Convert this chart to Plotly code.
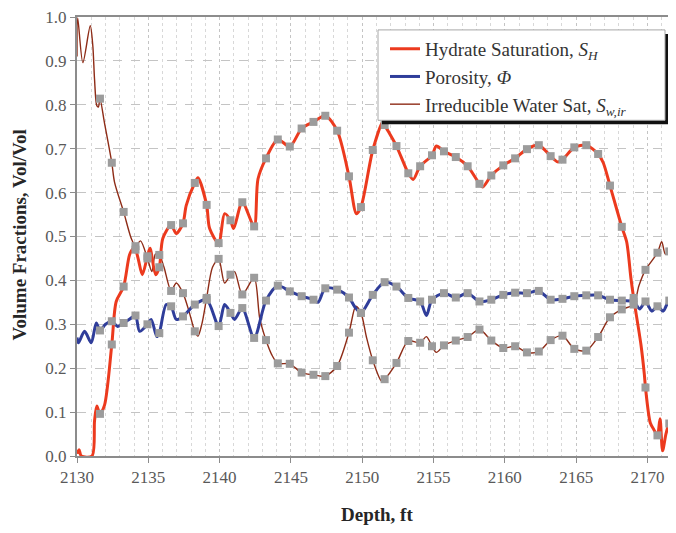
import plotly.graph_objects as go

FONT = "Liberation Serif"

# ---- data: gray square sample points (shared depths) ----
marker_depth = [2131.61, 2132.44, 2133.27, 2134.10, 2134.94, 2135.77, 2136.60, 2137.43, 2138.26, 2139.09,
                2139.93, 2140.76, 2141.59, 2142.42, 2143.25, 2144.08, 2144.92, 2145.75, 2146.58, 2147.41,
                2148.24, 2149.07, 2149.91, 2150.74, 2151.57, 2152.40, 2153.23, 2154.06, 2154.89, 2155.73,
                2156.56, 2157.39, 2158.22, 2159.05, 2159.89, 2160.72, 2161.55, 2162.38, 2163.21, 2164.04,
                2164.87, 2165.71, 2166.54, 2167.37, 2168.20, 2169.03, 2169.86, 2170.70, 2171.53]
hydrate_pts = [0.096, 0.254, 0.386, 0.47, 0.455, 0.43, 0.526, 0.53, 0.622, 0.572,
               0.485, 0.537, 0.578, 0.523, 0.678, 0.721, 0.705, 0.746, 0.761, 0.775,
               0.741, 0.637, 0.567, 0.697, 0.754, 0.706, 0.644, 0.66, 0.685, 0.694,
               0.681, 0.66, 0.62, 0.639, 0.662, 0.678, 0.699, 0.708, 0.683, 0.675,
               0.703, 0.708, 0.688, 0.616, 0.522, 0.36, 0.156, 0.047, 0.074]
porosity_pts = [0.286, 0.307, 0.303, 0.32, 0.30, 0.28, 0.341, 0.318, 0.345, 0.356,
                0.296, 0.326, 0.337, 0.269, 0.354, 0.388, 0.375, 0.364, 0.356, 0.382,
                0.379, 0.361, 0.326, 0.367, 0.396, 0.386, 0.36, 0.352, 0.356, 0.371,
                0.361, 0.371, 0.352, 0.356, 0.367, 0.372, 0.371, 0.376, 0.356, 0.358,
                0.364, 0.366, 0.366, 0.356, 0.354, 0.352, 0.352, 0.341, 0.354]
water_pts = [0.814, 0.668, 0.556, 0.478, 0.45, 0.458, 0.376, 0.371, 0.284, 0.36,
             0.449, 0.413, 0.368, 0.406, 0.264, 0.211, 0.21, 0.19, 0.185, 0.182,
             0.205, 0.281, 0.326, 0.218, 0.175, 0.212, 0.262, 0.258, 0.25, 0.252,
             0.263, 0.271, 0.288, 0.263, 0.246, 0.25, 0.236, 0.238, 0.264, 0.274,
             0.244, 0.24, 0.271, 0.316, 0.334, 0.345, 0.424, 0.463, 0.466]

# ---- data: continuous log curves ----
hydrate_depth = [2130.00, 2130.15, 2130.30, 2131.05, 2131.23, 2131.39, 2131.61, 2131.93, 2132.44, 2132.75,
                 2133.27, 2133.68, 2133.92, 2134.10, 2134.30, 2134.58, 2134.94, 2135.12, 2135.51, 2135.77,
                 2136.02, 2136.60, 2136.96, 2137.43, 2137.66, 2138.26, 2138.48, 2139.09, 2139.30, 2139.93,
                 2140.35, 2140.76, 2140.98, 2141.59, 2142.42, 2142.69, 2143.25, 2144.08, 2144.92, 2145.75,
                 2146.58, 2147.41, 2148.24, 2149.07, 2149.59, 2149.91, 2150.74, 2151.45, 2151.57, 2152.40,
                 2153.23, 2153.57, 2154.06, 2154.89, 2155.20, 2155.73, 2156.56, 2157.39, 2158.22, 2158.45,
                 2159.05, 2159.89, 2160.72, 2161.55, 2162.38, 2163.21, 2163.70, 2164.04, 2164.87, 2165.71,
                 2166.54, 2166.90, 2167.37, 2168.20, 2168.54, 2168.84, 2169.03, 2169.54, 2169.78, 2169.86,
                 2170.20, 2170.45, 2170.70, 2170.88, 2171.06, 2171.30, 2171.53, 2171.77, 2172.00]
hydrate_vals = [0.005, 0.014, 0.0, 0.0, 0.08, 0.114, 0.096, 0.116, 0.254, 0.352,
                0.386, 0.458, 0.472, 0.47, 0.448, 0.413, 0.455, 0.473, 0.413, 0.43,
                0.496, 0.526, 0.507, 0.53, 0.571, 0.622, 0.634, 0.572, 0.518, 0.485,
                0.552, 0.537, 0.518, 0.578, 0.523, 0.631, 0.678, 0.721, 0.705, 0.746,
                0.761, 0.775, 0.741, 0.637, 0.552, 0.567, 0.697, 0.762, 0.754, 0.706,
                0.644, 0.63, 0.66, 0.685, 0.706, 0.694, 0.681, 0.66, 0.62, 0.613,
                0.639, 0.662, 0.678, 0.699, 0.708, 0.683, 0.67, 0.675, 0.703, 0.708,
                0.688, 0.668, 0.616, 0.522, 0.488, 0.405, 0.36, 0.254, 0.186, 0.156,
                0.075, 0.06, 0.047, 0.085, 0.012, 0.051, 0.074, 0.046, 0.04]

porosity_depth = [2130.00, 2130.10, 2130.53, 2131.00, 2131.35, 2131.61, 2132.00, 2132.44, 2132.85, 2133.27,
                  2133.70, 2134.10, 2134.39, 2134.94, 2135.20, 2135.60, 2135.77, 2136.26, 2136.60, 2136.96,
                  2137.43, 2138.26, 2139.09, 2139.93, 2140.35, 2140.76, 2141.05, 2141.59, 2142.42, 2143.25,
                  2144.08, 2144.92, 2145.75, 2146.58, 2146.90, 2147.41, 2148.24, 2149.07, 2149.47, 2149.91,
                  2150.74, 2151.57, 2152.40, 2153.23, 2154.06, 2154.50, 2154.89, 2155.73, 2156.56, 2157.39,
                  2158.22, 2159.05, 2159.89, 2160.72, 2161.55, 2162.38, 2163.21, 2164.04, 2164.87, 2165.71,
                  2166.54, 2167.37, 2168.20, 2169.03, 2169.45, 2169.86, 2170.30, 2170.70, 2171.10, 2171.53,
                  2172.00]
porosity_vals = [0.27, 0.258, 0.284, 0.258, 0.303, 0.286, 0.30, 0.307, 0.295, 0.303,
                 0.312, 0.32, 0.284, 0.30, 0.311, 0.272, 0.28, 0.345, 0.341, 0.311,
                 0.318, 0.345, 0.356, 0.296, 0.345, 0.326, 0.311, 0.337, 0.269, 0.354,
                 0.388, 0.375, 0.364, 0.356, 0.35, 0.382, 0.379, 0.361, 0.34, 0.326,
                 0.367, 0.396, 0.386, 0.36, 0.352, 0.32, 0.356, 0.371, 0.361, 0.371,
                 0.352, 0.356, 0.367, 0.372, 0.371, 0.376, 0.356, 0.358, 0.364, 0.366,
                 0.366, 0.356, 0.354, 0.352, 0.335, 0.352, 0.33, 0.341, 0.33, 0.354,
                 0.341]

water_depth = [2130.00, 2130.05, 2130.41, 2130.93, 2131.11, 2131.23, 2131.39, 2131.50, 2131.61, 2131.92,
               2132.44, 2132.63, 2133.27, 2133.80, 2134.10, 2134.45, 2134.94, 2135.25, 2135.50, 2135.77,
               2136.10, 2136.60, 2136.96, 2137.43, 2137.85, 2138.26, 2138.48, 2138.75, 2139.09, 2139.50,
               2139.93, 2140.35, 2140.76, 2141.05, 2141.59, 2142.42, 2142.81, 2143.25, 2143.65, 2144.08,
               2144.92, 2145.75, 2146.58, 2147.41, 2148.24, 2149.07, 2149.55, 2149.91, 2150.30, 2150.74,
               2151.35, 2151.57, 2152.40, 2153.23, 2154.06, 2154.50, 2154.89, 2155.20, 2155.73, 2156.56,
               2157.39, 2158.22, 2159.05, 2159.89, 2160.72, 2161.55, 2162.38, 2163.21, 2164.04, 2164.87,
               2165.71, 2166.54, 2167.37, 2168.20, 2169.03, 2169.40, 2169.86, 2170.70, 2171.00, 2171.25,
               2171.53, 2171.77, 2172.00]
water_vals = [0.91, 0.998, 0.896, 0.98, 0.934, 0.858, 0.798, 0.795, 0.814, 0.76,
              0.668, 0.624, 0.556, 0.496, 0.478, 0.49, 0.45, 0.42, 0.46, 0.458,
              0.43, 0.376, 0.394, 0.371, 0.33, 0.284, 0.273, 0.30, 0.36, 0.43,
              0.449, 0.394, 0.413, 0.42, 0.368, 0.406, 0.314, 0.264, 0.231, 0.211,
              0.21, 0.19, 0.185, 0.182, 0.205, 0.281, 0.341, 0.326, 0.27, 0.218,
              0.171, 0.175, 0.212, 0.262, 0.258, 0.272, 0.25, 0.236, 0.252, 0.263,
              0.271, 0.288, 0.263, 0.246, 0.25, 0.236, 0.238, 0.264, 0.274, 0.244,
              0.24, 0.271, 0.316, 0.334, 0.345, 0.388, 0.424, 0.463, 0.488, 0.46,
              0.466, 0.488, 0.495]

x_ticks = [2130, 2135, 2140, 2145, 2150, 2155, 2160, 2165, 2170]

RED = "#ec3a1e"
BLUE = "#2f3d9a"
BROWN = "#8e2c17"
GRAY = "#9c9c9c"
AXIS = "#8c8c8c"

fig = go.Figure()
fig.add_trace(go.Scatter(x=water_depth, y=water_vals, mode="lines",
                         line=dict(color=BROWN, width=1.4, shape="spline", smoothing=0.8),
                         name="Irreducible Water Sat, <i>S<sub>w,ir</sub></i>", legendrank=3))
fig.add_trace(go.Scatter(x=porosity_depth, y=porosity_vals, mode="lines",
                         line=dict(color=BLUE, width=3, shape="spline", smoothing=0.8),
                         name="Porosity, <i>Φ</i>", legendrank=2))
fig.add_trace(go.Scatter(x=hydrate_depth, y=hydrate_vals, mode="lines",
                         line=dict(color=RED, width=3, shape="spline", smoothing=0.8),
                         name="Hydrate Saturation, <i>S<sub>H</sub></i>", legendrank=1))
for vals in (water_pts, porosity_pts, hydrate_pts):
    fig.add_trace(go.Scatter(x=marker_depth, y=vals, mode="markers", showlegend=False,
                             marker=dict(symbol="square", size=8, color=GRAY), hoverinfo="skip"))

# the page body adds an 8 px offset; layout numbers below are in page pixels
OFF = 8
L, T, W, H = 77, 14, 599, 442   # plot area in page pixels
FIG_W, FIG_H = 676 - OFF, 533 - OFF


def px(xp):
    return (xp - L) / W


def py(yp):
    return (T + H - yp) / H


fig.update_layout(
    width=FIG_W, height=FIG_H,
    margin=dict(l=L - OFF, r=FIG_W - (L - OFF) - W, t=T - OFF, b=FIG_H - (T - OFF) - H),
    paper_bgcolor="white", plot_bgcolor="white",
    font=dict(family=FONT, color="#595959"),
    legend=dict(x=px(385), y=py(27), xanchor="left", yanchor="top",
                bgcolor="rgba(0,0,0,0)", borderwidth=0, tracegroupgap=0,
                font=dict(family=FONT, size=19, color="#333333")),
    shapes=[
        dict(type="rect", xref="paper", yref="paper", x0=px(382), x1=px(669), y0=py(122), y1=py(31),
             fillcolor="#111111", line=dict(width=0), layer="above"),
        dict(type="rect", xref="paper", yref="paper", x0=px(378), x1=px(665), y0=py(118), y1=py(27),
             fillcolor="white", line=dict(color="#a8a8a8", width=1), layer="above"),
    ],
    annotations=[
        dict(text="<b>Volume Fractions, Vol/Vol</b>", xref="paper", yref="paper", x=px(20), y=py(234),
             textangle=-90, showarrow=False, xanchor="center", yanchor="middle",
             font=dict(family=FONT, size=19, color="#262626")),
        dict(text="<b>Depth, ft</b>", xref="paper", yref="paper", x=px(377), y=py(515),
             showarrow=False, xanchor="center", yanchor="middle",
             font=dict(family=FONT, size=19, color="#262626")),
    ],
)
fig.update_xaxes(range=[2130, 2172], tickvals=x_ticks, ticks="outside", ticklen=5, tickcolor=AXIS,
                 showline=True, linecolor=AXIS, linewidth=2, mirror=True, zeroline=False,
                 showgrid=True, gridcolor="#c4c4c4", griddash="dot", gridwidth=1,
                 ticklabeloverflow="allow",
                 minor=dict(dtick=1, tick0=2130, showgrid=True, gridcolor="#d8d8d8", griddash="dot", gridwidth=1),
                 tickfont=dict(family=FONT, size=17, color="#595959"))
fig.update_yaxes(range=[0, 1], dtick=0.1, tickformat=".1f", ticks="outside", ticklen=5, tickcolor=AXIS,
                 showline=True, linecolor=AXIS, linewidth=2, zeroline=False,
                 showgrid=True, gridcolor="#c4c4c4", griddash="dash", gridwidth=1,
                 ticklabeloverflow="allow",
                 tickfont=dict(family=FONT, size=17, color="#595959"))

fig.write_html("out.html")
